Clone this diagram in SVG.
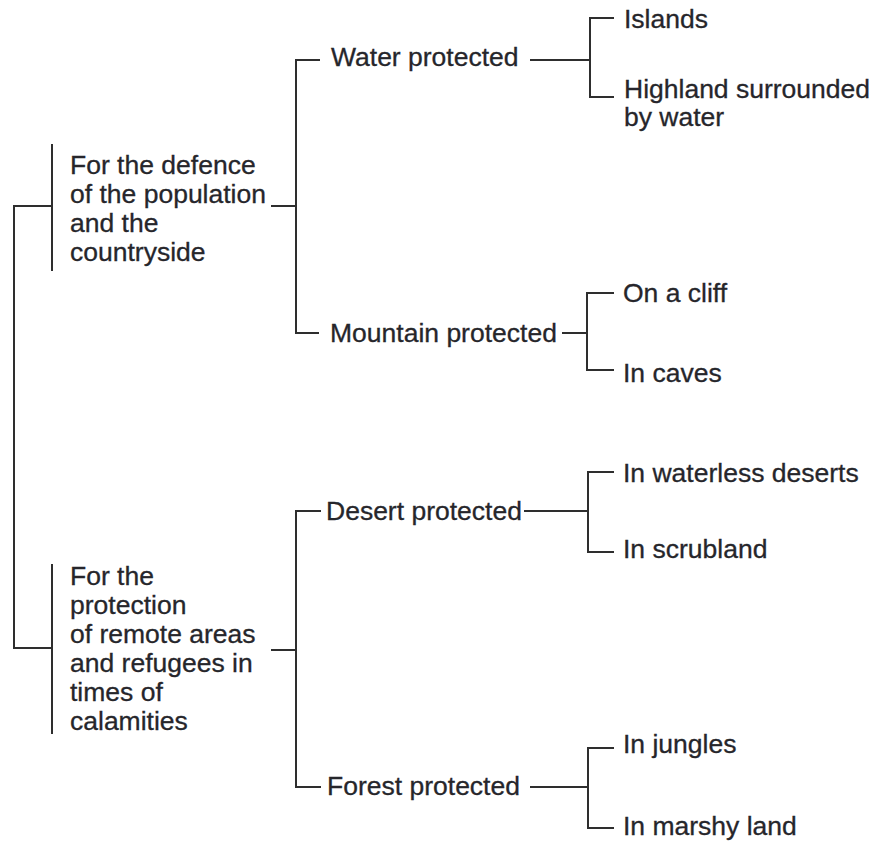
<svg xmlns="http://www.w3.org/2000/svg" width="876" height="842" viewBox="0 0 876 842">
  <style>
    .bg { fill: #ffffff; }
    .link { fill: none; stroke: #2e2e2e; stroke-width: 2; stroke-linecap: square; }
    .label { font-family: "Liberation Sans", Arial, Helvetica, sans-serif; font-size: 26.5px; fill: #26262b; stroke: #26262b; stroke-width: 0.3px; }
  </style>
  <rect class="bg" x="0" y="0" width="876" height="842"/>

  <!-- connectors -->
  <g id="connectors">
    <!-- root bracket joining the two purposes -->
    <path class="link" d="M52,206 H14 V648 H52"/>
    <line class="link" x1="52" y1="145" x2="52" y2="270"/>
    <line class="link" x1="52" y1="565" x2="52" y2="733"/>

    <!-- defence branch -->
    <line class="link" x1="272" y1="206" x2="296" y2="206"/>
    <path class="link" d="M319,60 H296 V333 H318"/>
    <line class="link" x1="531" y1="60" x2="590" y2="60"/>
    <path class="link" d="M613,18 H590 V97 H613"/>
    <line class="link" x1="563" y1="333" x2="587" y2="333"/>
    <path class="link" d="M613,293 H587 V370 H613"/>

    <!-- remote areas branch -->
    <line class="link" x1="272" y1="650" x2="296" y2="650"/>
    <path class="link" d="M320,511 H296 V787 H320"/>
    <line class="link" x1="525" y1="511" x2="588" y2="511"/>
    <path class="link" d="M613,472 H588 V552 H613"/>
    <line class="link" x1="531" y1="787" x2="588" y2="787"/>
    <path class="link" d="M613,748 H588 V828 H613"/>
  </g>

  <!-- purposes -->
  <g id="defence">
    <text class="label" x="70" y="174">For the defence</text>
    <text class="label" x="70" y="203">of the population</text>
    <text class="label" x="70" y="232">and the</text>
    <text class="label" x="70" y="261">countryside</text>
  </g>
  <g id="remote-areas">
    <text class="label" x="70" y="585">For the</text>
    <text class="label" x="70" y="614">protection</text>
    <text class="label" x="70" y="643">of remote areas</text>
    <text class="label" x="70" y="672">and refugees in</text>
    <text class="label" x="70" y="701">times of</text>
    <text class="label" x="70" y="730">calamities</text>
  </g>

  <!-- protection types -->
  <g id="water-protected"><text class="label" x="331" y="66">Water protected</text></g>
  <g id="mountain-protected"><text class="label" x="330" y="342">Mountain protected</text></g>
  <g id="desert-protected"><text class="label" x="326" y="520">Desert protected</text></g>
  <g id="forest-protected"><text class="label" x="327" y="795">Forest protected</text></g>

  <!-- locations -->
  <g id="islands"><text class="label" x="624" y="28">Islands</text></g>
  <g id="highland">
    <text class="label" x="624" y="98">Highland surrounded</text>
    <text class="label" x="624" y="126">by water</text>
  </g>
  <g id="cliff"><text class="label" x="623" y="302">On a cliff</text></g>
  <g id="caves"><text class="label" x="623" y="382">In caves</text></g>
  <g id="waterless-deserts"><text class="label" x="623" y="482">In waterless deserts</text></g>
  <g id="scrubland"><text class="label" x="623" y="558">In scrubland</text></g>
  <g id="jungles"><text class="label" x="623" y="753">In jungles</text></g>
  <g id="marshy-land"><text class="label" x="623" y="835">In marshy land</text></g>
</svg>
